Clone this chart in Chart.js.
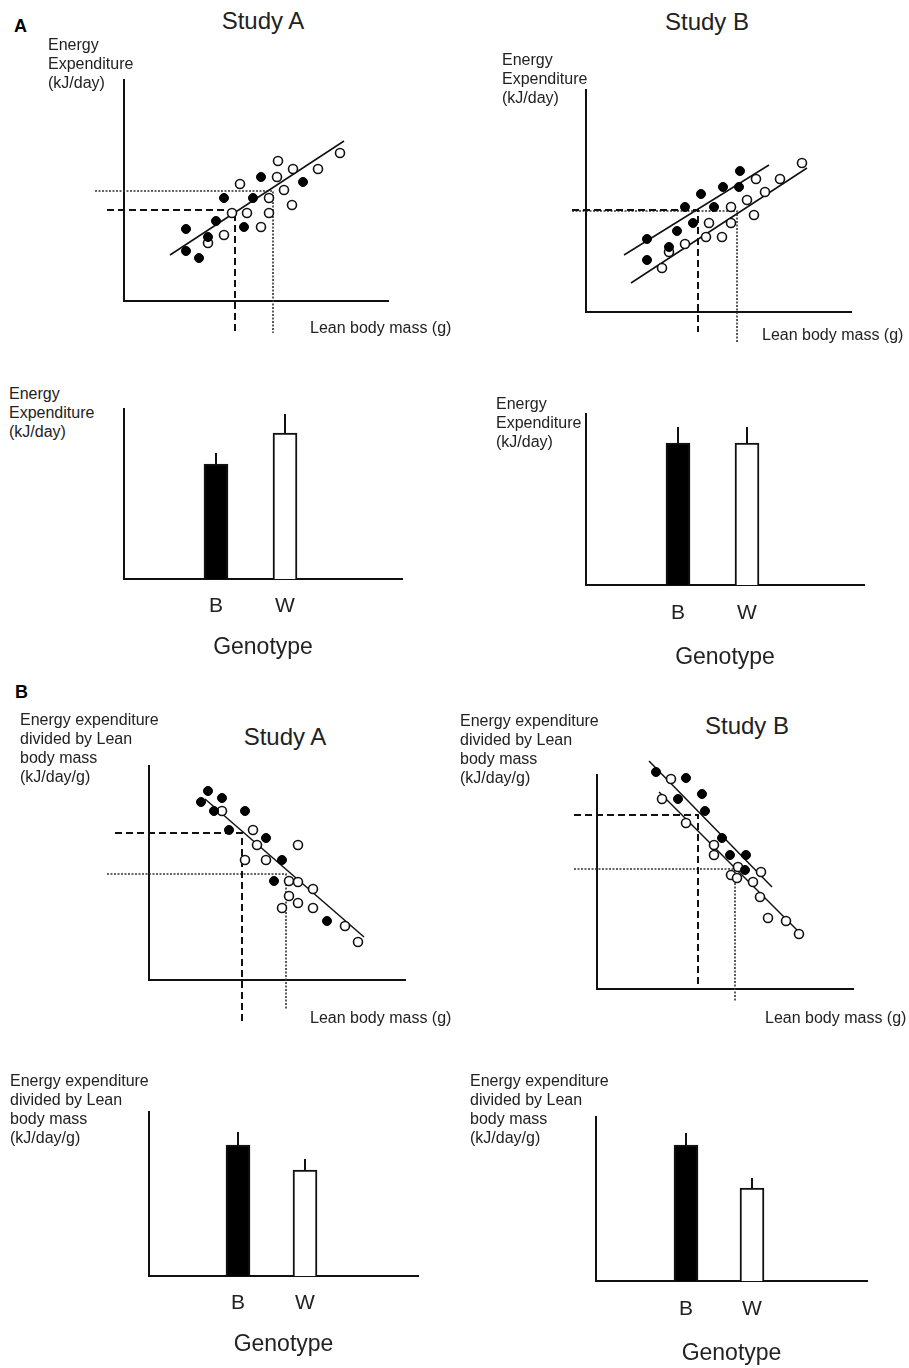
<!DOCTYPE html>
<html>
<head>
<meta charset="utf-8">
<script src="https://cdn.jsdelivr.net/npm/chart.js@4.4.1/dist/chart.umd.min.js"></script>
<style>
body { margin: 0; background: #fff; }
#fig { position: relative; width: 909px; height: 1368px; overflow: hidden; font-family: 'Liberation Sans', Arial, sans-serif; color: #222; }
#fig canvas { position: absolute; }
.lbl { position: absolute; white-space: nowrap; font-size: 16px; line-height: 19px; }
.ttl { position: absolute; white-space: nowrap; font-size: 24px; line-height: 24px; transform: translateX(-50%); }
.let { position: absolute; font-size: 18px; line-height: 18px; font-weight: bold; color: #000; }
</style>
</head>
<body>
<div id="fig"></div>
<script>
const FONT = "'Liberation Sans', Arial, sans-serif";

// values are in arbitrary units read off the schematic (no real ticks in the figure)
const genotypes = ['B', 'W'];
const yLabelEE = ['Energy', 'Expenditure', '(kJ/day)'];
const yLabelRatio = ['Energy expenditure', 'divided by Lean', 'body mass', '(kJ/day/g)'];
const xLabelLean = 'Lean body mass (g)';
const xTitleBars = 'Genotype';

// A, Study A: energy expenditure vs lean body mass
const eeA_black = [[137,124],[179,119],[100,103],[129,103],[92,80],[62,72],[84,64],[120,74],[62,50],[75,43]];
const eeA_white = [[154,140],[169,132],[194,132],[216,148],[153,124],[116,117],[160,111],[145,103],[168,96],[108,88],[123,88],[145,88],[137,74],[100,66],[84,58]];
const eeA_fit = [[46,46],[220,160]];
const eeA_dash = [[-17,91],[111,91],[111,-32]];
const eeA_dot = [[-29,110],[149,110],[149,-32]];

// A, Study B
const eeB_black = [[154,141],[137,125],[153,125],[115,118],[99,105],[128,105],[107,89],[91,81],[61,73],[83,65],[61,52]];
const eeB_white = [[216,149],[170,133],[194,133],[179,120],[161,112],[145,105],[168,97],[123,89],[145,89],[120,75],[136,75],[99,68],[83,60],[76,44]];
const eeB_fitBlack = [[38,57],[183,147]];
const eeB_fitWhite = [[45,29],[221,144]];
const eeB_dash = [[-14,102],[112,102],[112,-20]];
const eeB_dot = [[-14,101],[151,101],[151,-31]];

// A, bar means
const eeA_bars = [115, 146];
const eeA_err = [11, 19];
const eeB_bars = [142, 142];
const eeB_err = [16, 16];

// B, Study A: EE / lean mass vs lean body mass
const rA_black = [[59,189],[52,178],[73,182],[65,169],[96,169],[80,150],[117,142],[133,120],[125,99],[178,59]];
const rA_white = [[73,169],[104,150],[108,135],[149,135],[96,120],[117,120],[140,99],[149,98],[164,91],[140,84],[149,77],[133,72],[164,72],[196,54],[209,38]];
const rA_fit = [[56,181],[215,43]];
const rA_dash = [[-34,147],[93,147],[93,-45]];
const rA_dot = [[-42,106],[137,106],[137,-30]];

// B, Study B
const rB_black = [[52,233],[59,217],[73,220],[89,211],[81,190],[105,195],[108,178],[125,151],[133,134],[149,134],[148,119]];
const rB_white = [[74,210],[65,190],[89,166],[117,144],[117,134],[141,122],[134,114],[140,111],[164,117],[156,107],[163,92],[171,71],[189,68],[202,55]];
const rB_fitBlack = [[52,228],[175,102]];
const rB_fitWhite = [[62,197],[204,55]];
const rB_dash = [[-23,174],[101,174],[101,0]];
const rB_dot = [[-23,120],[138,120],[138,-13]];

// B, bar means
const rA_bars = [131, 106];
const rA_err = [13, 11];
const rB_bars = [136, 93];
const rB_err = [12, 10];

const fig = document.getElementById('fig');

function makeCanvas(l, t, w, h) {
    const cv = document.createElement('canvas');
    cv.width = w; cv.height = h;
    cv.style.left = l + 'px'; cv.style.top = t + 'px';
    cv.style.width = w + 'px'; cv.style.height = h + 'px';
    fig.appendChild(cv);
    return cv;
}

function axisOpts(max) {
    return {
        type: 'linear', min: 0, max: max, offset: false, bounds: 'data',
        ticks: { display: false },
        grid: { display: false, drawTicks: false },
        border: { display: true, color: '#111', width: 2 }
    };
}

const pts = a => a.map(p => ({ x: p[0], y: p[1] }));

function guide(data, dash, color, w) {
    return { data: pts(data), showLine: true, pointRadius: 0, borderColor: color, borderWidth: w, borderDash: dash, clip: false };
}

// box = canvas [left, top, right, bottom]; ax = [originX, originY, axisTop, axisRight] in page px
function scatterPanel(box, ax, d) {
    const [l, t, r, b] = box;
    const [ox, oy, top, right] = ax;
    const cv = makeCanvas(l, t, r - l, b - t);
    const datasets = [
        { data: pts(d.black), pointRadius: 4.5, backgroundColor: '#000', borderColor: '#000', pointBorderWidth: 1, clip: false },
        { data: pts(d.white), pointRadius: 4.5, backgroundColor: '#fff', borderColor: '#111', pointBorderWidth: 1.6, clip: false }
    ];
    d.fits.forEach(f => datasets.push(guide(f, [], '#111', 1.5)));
    datasets.push(guide(d.dash, [7, 4], '#111', 2));
    datasets.push(guide(d.dot, [2, 1.5], '#333', 1.6));
    new Chart(cv, {
        type: 'scatter',
        data: { datasets },
        options: {
            responsive: false, animation: false, devicePixelRatio: 1,
            layout: { autoPadding: false, padding: { left: ox - l, top: top - t, right: r - right, bottom: b - oy } },
            plugins: { legend: { display: false }, tooltip: { enabled: false } },
            events: [],
            scales: { x: axisOpts(right - ox), y: axisOpts(oy - top) }
        }
    });
}

function barPanel(box, ax, slots, vals, errs, tickPad, titlePad) {
    const [l, t, r] = box;
    const [ox, oy, top, right] = ax;
    const scaleH = 21 * 1.2 + 2 * tickPad + titlePad + 23 * 1.2;
    const b = Math.ceil(oy + scaleH);
    const cv = makeCanvas(l, t, r - l, b - t);

    const errLine = [];
    slots.forEach((x, i) => {
        errLine.push({ x, y: vals[i] }, { x, y: vals[i] + errs[i] }, { x, y: null });
    });

    const xAxis = axisOpts(right - ox);
    xAxis.afterBuildTicks = s => { s.ticks = slots.map(v => ({ value: v })); };
    xAxis.ticks = {
        display: true, padding: tickPad, color: '#222', autoSkip: false, maxRotation: 0,
        font: { family: FONT, size: 21 },
        callback: (v, i) => genotypes[i]
    };
    xAxis.title = {
        display: true, text: xTitleBars, color: '#222',
        font: { family: FONT, size: 23 },
        padding: { top: titlePad, bottom: 0 }
    };

    new Chart(cv, {
        type: 'bar',
        data: {
            datasets: [
                { type: 'line', data: errLine, borderColor: '#111', borderWidth: 2, pointRadius: 0, spanGaps: false, clip: false },
                { type: 'bar', data: slots.map((x, i) => ({ x, y: vals[i] })), backgroundColor: ['#000', '#fff'],
                  borderColor: '#111', borderWidth: 2, borderSkipped: 'bottom', barThickness: 24 }
            ]
        },
        options: {
            responsive: false, animation: false, devicePixelRatio: 1,
            layout: { autoPadding: false, padding: { left: ox - l, top: top - t, right: r - right, bottom: b - oy - scaleH } },
            plugins: { legend: { display: false }, tooltip: { enabled: false } },
            events: [],
            scales: { x: xAxis, y: axisOpts(oy - top) }
        }
    });
}

function text(cls, str, left, top) {
    const el = document.createElement('div');
    el.className = cls;
    el.style.left = left + 'px';
    el.style.top = top + 'px';
    if (Array.isArray(str)) {
        str.forEach((s, i) => {
            if (i) el.appendChild(document.createElement('br'));
            el.appendChild(document.createTextNode(s));
        });
    } else {
        el.textContent = str;
    }
    fig.appendChild(el);
}

// charts
scatterPanel([80, 60, 400, 345], [124, 301, 80, 388],
    { black: eeA_black, white: eeA_white, fits: [eeA_fit], dash: eeA_dash, dot: eeA_dot });
scatterPanel([560, 70, 870, 355], [586, 312, 90, 851],
    { black: eeB_black, white: eeB_white, fits: [eeB_fitBlack, eeB_fitWhite], dash: eeB_dash, dot: eeB_dot });
barPanel([100, 395, 420], [124, 579, 409, 402], [92, 161], eeA_bars, eeA_err, 15, 0);
barPanel([560, 400, 880], [586, 585, 414, 864], [92, 161], eeB_bars, eeB_err, 16, 2);

scatterPanel([95, 750, 420, 1035], [149, 980, 766, 405],
    { black: rA_black, white: rA_white, fits: [rA_fit], dash: rA_dash, dot: rA_dot });
scatterPanel([560, 740, 870, 1015], [597, 989, 775, 853],
    { black: rB_black, white: rB_white, fits: [rB_fitBlack, rB_fitWhite], dash: rB_dash, dot: rB_dot });
barPanel([120, 1100, 440], [149, 1276, 1112, 418], [89, 156], rA_bars, rA_err, 15, 0);
barPanel([570, 1105, 890], [596, 1281, 1117, 867], [90, 156], rB_bars, rB_err, 16, 2);

// labels
text('let', 'A', 14, 17);
text('let', 'B', 15, 683);

text('ttl', 'Study A', 263, 9);
text('ttl', 'Study B', 707, 10);
text('ttl', 'Study A', 285, 725);
text('ttl', 'Study B', 747, 714);

text('lbl', yLabelEE, 48, 35);
text('lbl', yLabelEE, 502, 50);
text('lbl', yLabelEE, 9, 384);
text('lbl', yLabelEE, 496, 394);
text('lbl', yLabelRatio, 20, 710);
text('lbl', yLabelRatio, 460, 711);
text('lbl', yLabelRatio, 10, 1071);
text('lbl', yLabelRatio, 470, 1071);

text('lbl', xLabelLean, 310, 318);
text('lbl', xLabelLean, 762, 325);
text('lbl', xLabelLean, 310, 1008);
text('lbl', xLabelLean, 765, 1008);
</script>
</body>
</html>
